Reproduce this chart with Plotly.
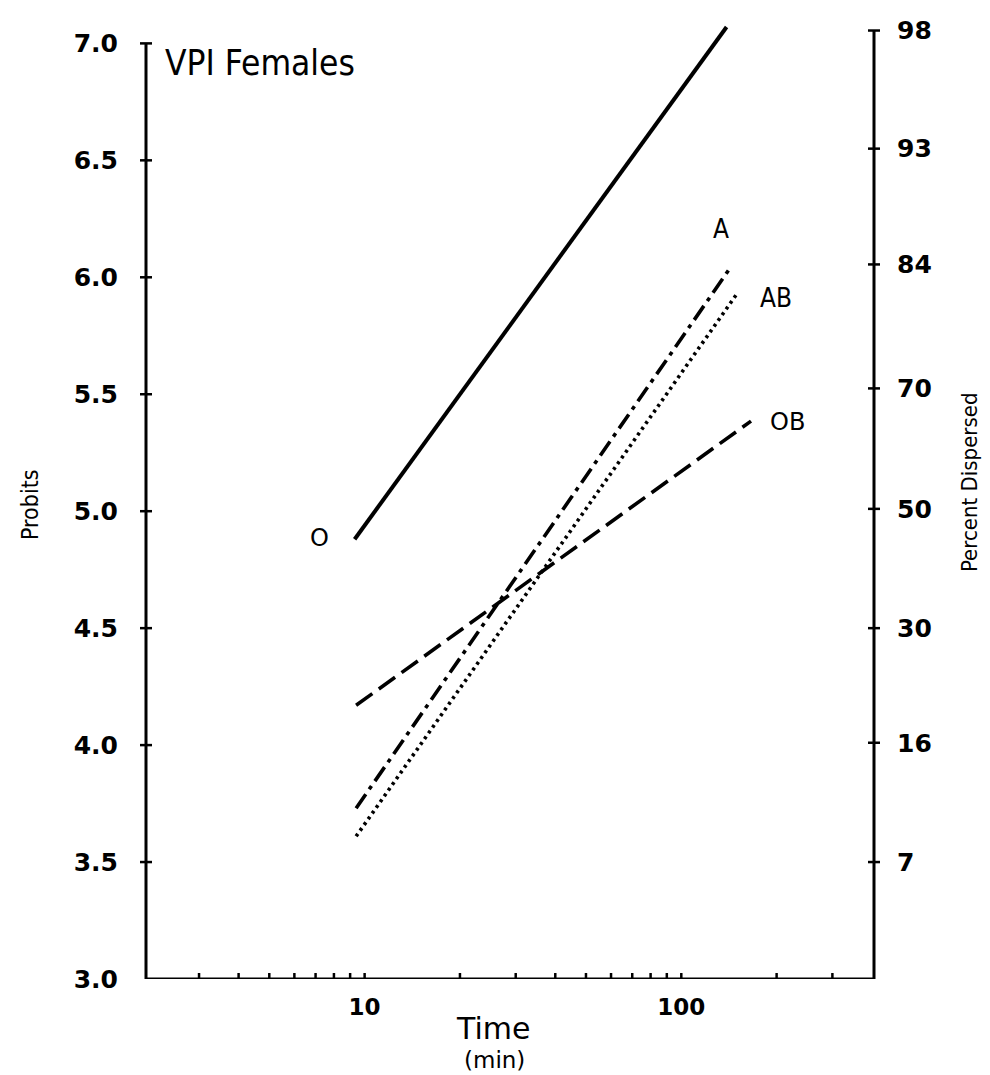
import plotly.graph_objects as go
import numpy as np

# ---------------- data ----------------
groups = ["O", "A", "AB", "OB"]
time_start = [9.3, 9.4, 9.4, 9.4]
time_end = [139, 141, 150, 166]
probit_start = [4.88, 3.73, 3.61, 4.17]
probit_end = [7.07, 6.03, 5.93, 5.385]

probit_ticks = [3.0, 3.5, 4.0, 4.5, 5.0, 5.5, 6.0, 6.5, 7.0]
pct_labels = ["98", "93", "84", "70", "50", "30", "16", "7"]
pct_tick_probit = [7.055, 6.55, 6.055, 5.525, 5.01, 4.50, 4.01, 3.50]
time_ticks = [3, 4, 5, 6, 7, 8, 9, 10, 20, 30, 40, 50, 60, 70, 80, 90, 100, 200, 300]
time_labels = {10: "10", 100: "100"}

# ---------------- styling ----------------
dashes = {"O": "solid", "A": "17px,6px,4px,6px", "AB": "3px,4px", "OB": "20px,8px"}
widths = {"O": 4, "A": 3.6, "AB": 3.6, "OB": 3.6}
label_pos = {"O": (7.2, 4.887), "A": (133.5, 6.207), "AB": (199, 5.913), "OB": (216, 5.381)}
COND = "DejaVu Sans Condensed, Liberation Sans Narrow, Liberation Sans"

W, H = 990, 1075
L, R, T, B = 138, 124, 8, 104
pw = W - L - R
ph = H - T - B
xr = [np.log10(2.04), np.log10(406)]
yr = [3.0, 7.1]

fig = go.Figure()
for g, t0, t1, p0, p1 in zip(groups, time_start, time_end, probit_start, probit_end):
    fig.add_trace(go.Scatter(
        x=[t0, t1], y=[p0, p1], mode="lines", name=g,
        line=dict(color="black", width=widths[g], dash=dashes[g]),
        showlegend=False, hoverinfo="skip"))

fig.add_trace(go.Scatter(x=[10], y=[5], yaxis="y2", mode="markers",
                         marker=dict(opacity=0), showlegend=False, hoverinfo="skip"))

shapes = []
lw = 3
shapes.append(dict(type="line", xref="paper", yref="y", x0=0, x1=0, y0=3.0, y1=7.0,
                   line=dict(color="black", width=lw)))
shapes.append(dict(type="line", xref="paper", yref="y", x0=1, x1=1, y0=3.0, y1=pct_tick_probit[0],
                   line=dict(color="black", width=lw)))
shapes.append(dict(type="line", xref="paper", yref="y", x0=0, x1=1, y0=3.0, y1=3.0,
                   line=dict(color="black", width=lw)))
tx = 6.0 / pw
for v in probit_ticks[1:]:
    shapes.append(dict(type="line", xref="paper", yref="y", x0=-tx, x1=tx, y0=v, y1=v,
                       line=dict(color="black", width=2.5)))
for v in pct_tick_probit:
    shapes.append(dict(type="line", xref="paper", yref="y", x0=1 - tx, x1=1 + tx, y0=v, y1=v,
                       line=dict(color="black", width=2.5)))
ty = 6.0 / ph * (yr[1] - yr[0])
for v in time_ticks:
    shapes.append(dict(type="line", xref="x", yref="y", x0=v, x1=v, y0=3.0 - ty, y1=3.0 + ty,
                       line=dict(color="black", width=2.5)))

ann = []
for g in groups:
    x, y = label_pos[g]
    if g in ("A", "AB"):
        fnt = dict(family=COND, size=26, color="black")
    else:
        fnt = dict(family="DejaVu Sans", size=24, color="black")
    ann.append(dict(x=np.log10(x), y=y, xref="x", yref="y", text=g, showarrow=False,
                    font=fnt, xanchor="center", yanchor="middle"))


def px(xp):
    return (xp - L) / pw


def py(yp):
    return 1 - (yp - T) / ph


ann.append(dict(x=px(155), y=py(51), xref="paper", yref="paper",
                text="VPI Females", showarrow=False, xanchor="left", yanchor="middle",
                font=dict(family=COND, size=35, color="black")))
ann.append(dict(x=px(22), y=py(495), xref="paper", yref="paper",
                text="Probits", showarrow=False, textangle=-90, xanchor="center", yanchor="middle",
                font=dict(family=COND, size=23, color="black")))
ann.append(dict(x=px(961), y=py(472), xref="paper", yref="paper",
                text="Percent Dispersed", showarrow=False, textangle=-90, xanchor="center", yanchor="middle",
                font=dict(family=COND, size=22, color="black")))
ann.append(dict(x=px(485), y=py(1021), xref="paper", yref="paper",
                text="Time", showarrow=False, xanchor="center", yanchor="middle",
                font=dict(family="DejaVu Sans", size=30, color="black")))
ann.append(dict(x=px(486), y=py(1052), xref="paper", yref="paper",
                text="(min)", showarrow=False, xanchor="center", yanchor="middle",
                font=dict(family="DejaVu Sans", size=23, color="black")))

tickfont = dict(family="DejaVu Sans", size=25, color="black", weight="bold")
fig.update_layout(
    width=W, height=H, margin=dict(l=L, r=R, t=T, b=B),
    paper_bgcolor="white", plot_bgcolor="white",
    xaxis=dict(type="log", range=xr, showgrid=False, zeroline=False, showline=False,
               tickvals=[10, 100], ticktext=[time_labels[10], time_labels[100]],
               ticks="", tickfont=dict(family="DejaVu Sans", size=23, color="black", weight="bold"),
               ticklabelstandoff=12),
    yaxis=dict(range=yr, showgrid=False, zeroline=False, showline=False,
               tickvals=probit_ticks, ticktext=[f"{v:.1f}" for v in probit_ticks],
               ticks="", tickfont=tickfont, ticklabelstandoff=27),
    yaxis2=dict(range=yr, overlaying="y", side="right", showgrid=False, zeroline=False,
                showline=False, tickvals=pct_tick_probit, ticktext=pct_labels,
                ticks="", tickfont=tickfont, ticklabelstandoff=22),
    shapes=shapes, annotations=ann,
)
fig.write_html("out.html")
